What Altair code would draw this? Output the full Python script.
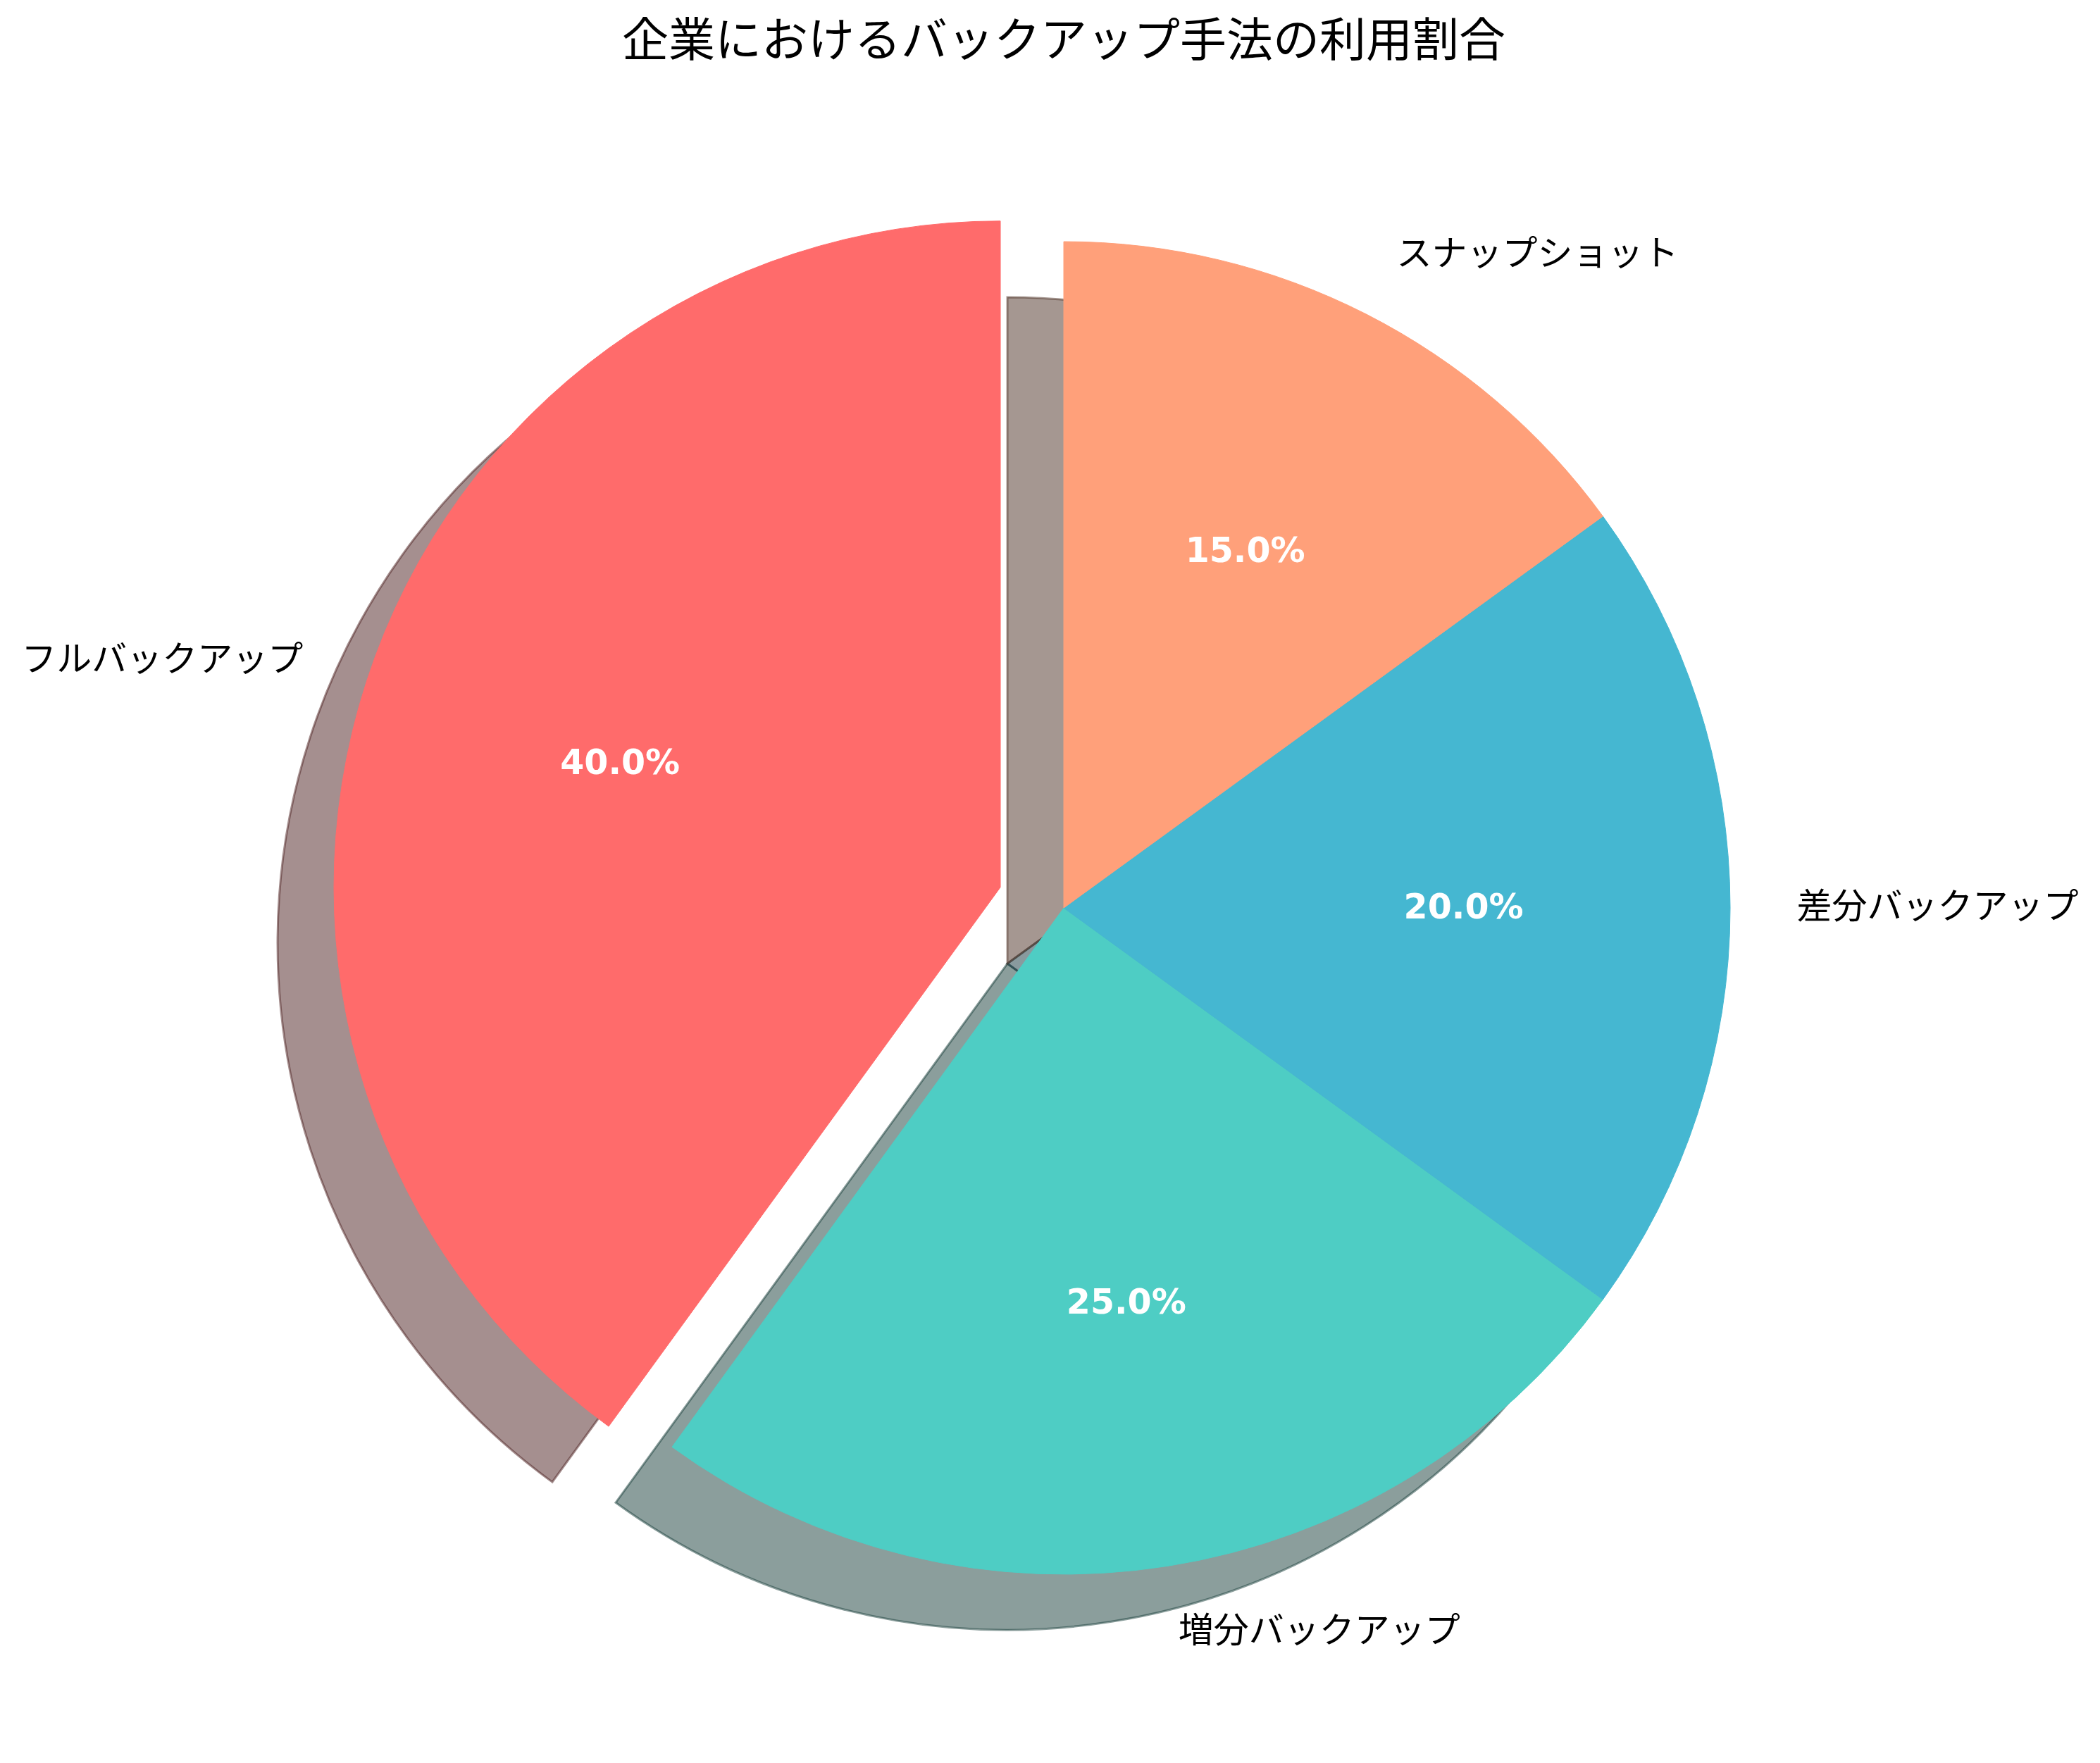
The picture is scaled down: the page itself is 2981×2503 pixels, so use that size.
import numpy as np
import pandas as pd
import altair as alt

# matplotlib-style pie: counter-clockwise from 12 o'clock, first slice exploded
categories = ["フルバックアップ", "増分バックアップ", "差分バックアップ", "スナップショット"]
shares = [40, 25, 20, 15]
colors = ["#FF6B6B", "#4ECDC4", "#45B7D1", "#FFA07A"]
exploded = "フルバックアップ"
explode = 0.1
title = "企業におけるバックアップ手法の利用割合"

R = 946            # pie radius in px
SX, SY = -80, 79   # shadow offset
JP = "Noto Sans CJK JP"


def shade(hex_color, k=0.3):
    r, g, b = (int(hex_color[i:i + 2], 16) for i in (1, 3, 5))
    return "#{:02x}{:02x}{:02x}".format(int(r * k), int(g * k), int(b * k))


n = len(categories)
df = pd.DataFrame({
    "name": categories,
    "share": shares,
    # vega runs clockwise, matplotlib counter-clockwise -> reverse the order
    "pos": [n - 1 - i for i in range(n)],
    "shadow": [shade(c) for c in colors],
})
total = float(sum(shares))

# offset of the exploded wedge along its mid angle
tmp = df.sort_values("pos")
cum = tmp["share"].cumsum()
mid_share = (cum - tmp["share"] / 2)[tmp["name"] == exploded].iloc[0]
ang = 2 * np.pi * mid_share / total
ex_dx = explode * R * np.sin(ang)
ex_dy = -explode * R * np.cos(ang)
ex_align = "left" if np.sin(ang) > 0 else "right"

theta_scale = alt.Scale(domain=[0, total], range=[0, 2 * np.pi])
fill_scale = alt.Scale(domain=categories, range=colors)

base = (alt
        .Chart(df)
        .transform_window(cum="sum(share)", sort=[alt.SortField("pos")], frame=[None, 0])
        .transform_calculate(
            start="datum.cum - datum.share",
            mid="datum.cum - datum.share / 2",
            pct="format(100 * datum.share / %f, '.1f') + '%%'" % total,
            right="sin(2 * PI * datum.mid / %f) > 0" % total,
        )
       )

rest = base.transform_filter(alt.datum.name != exploded)
expl = base.transform_filter(alt.datum.name == exploded)

arc_enc = dict(
    theta=alt.Theta("start:Q", stack=None, scale=theta_scale),
    theta2="cum:Q",
)


def shadow(chart, dx, dy):
    return (chart
            .mark_arc(radius=R, xOffset=dx, yOffset=dy,
                      fillOpacity=0.5, strokeOpacity=0.5, strokeWidth=3)
            .encode(fill=alt.Fill("shadow:N", scale=None),
                    stroke=alt.Stroke("shadow:N", scale=None),
                    **arc_enc))


def wedge(chart, dx, dy):
    return (chart
            .mark_arc(radius=R, xOffset=dx, yOffset=dy, strokeWidth=1)
            .encode(fill=alt.Fill("name:N", scale=fill_scale, legend=None),
                    stroke=alt.Stroke("name:N", scale=fill_scale, legend=None),
                    **arc_enc))


def pct_text(chart, dx, dy):
    return (chart
            .mark_text(radius=0.6 * R, dx=dx, dy=dy, font="DejaVu Sans",
                       fontWeight="bold", fontSize=49, color="white",
                       align="center", baseline="middle")
            .encode(theta=alt.Theta("mid:Q", stack=None, scale=theta_scale),
                    text="pct:N"))


def label(chart, dx, dy, align):
    return (chart
            .mark_text(radius=1.1 * R, dx=dx, dy=dy, font=JP, fontSize=50,
                       color="black", align=align, baseline="middle")
            .encode(theta=alt.Theta("mid:Q", stack=None, scale=theta_scale),
                    text="name:N"))


layers = [
    shadow(rest, SX, SY),
    shadow(expl, ex_dx + SX, ex_dy + SY),
    wedge(rest, 0, 0),
    wedge(expl, ex_dx, ex_dy),
    pct_text(rest, 0, 0),
    pct_text(expl, ex_dx, ex_dy),
    label(rest.transform_filter("datum.right"), 0, 0, "left"),
    label(rest.transform_filter("!datum.right"), 0, 0, "right"),
    label(expl, ex_dx, ex_dy, ex_align),
]

W = H = 2200
chart = (alt.layer(*layers)
         .properties(
             width=W,
             height=H,
             autosize=alt.AutoSizeParams(type="none"),
             padding={"left": 402, "top": 181, "right": 363, "bottom": 106},
             title=alt.TitleParams(title, font=JP, fontSize=66, fontWeight="normal",
                                   color="black", anchor="middle", offset=95),
         )
         .configure_view(stroke=None)
         .configure(background="white")
        )

chart.save("out.html", embed_options={"renderer": "svg", "actions": False})
